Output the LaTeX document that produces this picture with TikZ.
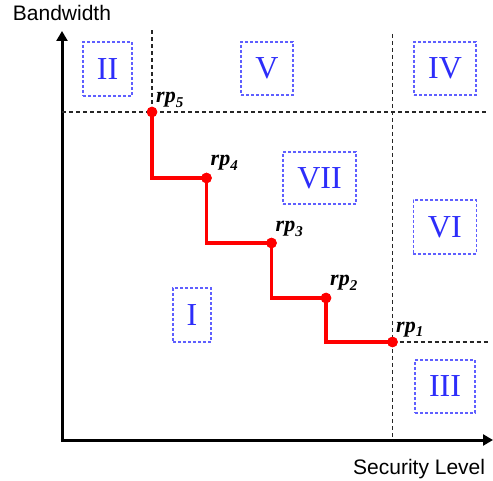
\documentclass[tikz,border=0pt]{standalone}
\usepackage{fontspec}
\setmainfont{Liberation Serif}
\newfontfamily\axisfont{Liberation Sans}
\usetikzlibrary{arrows.meta}
\definecolor{regionblue}{RGB}{45,45,250}
\definecolor{frameblue}{RGB}{95,95,255}
\definecolor{pathred}{RGB}{255,0,0}
\newcommand\rplabel[1]{\fontsize{22}{24}\selectfont\bfseries\itshape rp\raisebox{-5pt}{\fontsize{15}{16}\selectfont #1}}
\tikzset{
  axis/.style={line width=3pt, -{Triangle[length=10pt,width=11pt]}},
  guide/.style={line width=1.2pt, dash pattern=on 4pt off 3pt, black!85},
  region/.style={draw=frameblue, line width=1.1pt, dash pattern=on 3pt off 2pt,
    text=regionblue, inner sep=0pt, font=\fontsize{32}{34}\selectfont},
  rpdot/.style={circle, fill=pathred, inner sep=0pt, minimum size=10.5pt},
  rppath/.style={pathred, line width=3.4pt},
  rptext/.style={anchor=base west, inner sep=0pt},
  axislabel/.style={anchor=base west, inner sep=0pt, font=\axisfont\fontsize{21}{23}\selectfont}
}
\begin{document}
\begin{tikzpicture}[x=1pt, y=-1pt]
\useasboundingbox (0,0) rectangle (493,481);

% axes
\coordinate (origin) at (62,440);
\coordinate (ytip) at (62,31);
\coordinate (xtip) at (493,440);
\draw[axis] ([yshift=-1.5pt]origin) -- (ytip);
\draw[axis] ([xshift=-1.5pt]origin) -- (xtip);
\node[axislabel] (ylab) at (12.7,20.7) {Bandwidth};
\node[axislabel] (xlab) at (353,474) {Security Level};

% reference points
\node[rpdot] (rp5) at (152,112) {};
\node[rpdot] (rp4) at (206.5,178) {};
\node[rpdot] (rp3) at (271.5,243) {};
\node[rpdot] (rp2) at (326,298) {};
\node[rpdot] (rp1) at (392.5,342) {};

% guide lines
\coordinate (gA) at (152,30.5);
\coordinate (gB) at (62,112);
\coordinate (gC) at (488,112);
\coordinate (gD) at (392.5,34);
\coordinate (gE) at (392.5,440);
\coordinate (gF) at (490,342);
\draw[guide] (gA) -- (rp5.center);
\draw[guide] (gB) -- (gC);
\draw[guide] (gD) -- (gE);
\draw[guide] (rp1.center) -- (gF);

% staircase
\draw[rppath] (rp5.center) |- (rp4.center) |- (rp3.center) |- (rp2.center) |- (rp1.center);
\foreach \p in {rp5,rp4,rp3,rp2,rp1} \node[rpdot] at (\p) {};

% point labels
\node[rptext] (l5) at (156,103) {\rplabel{5}};
\node[rptext] (l4) at (210.5,166) {\rplabel{4}};
\node[rptext] (l3) at (275.5,231.5) {\rplabel{3}};
\node[rptext] (l2) at (330,286) {\rplabel{2}};
\node[rptext] (l1) at (396,332) {\rplabel{1}};

% regions
\node[region, minimum width=49pt, minimum height=54pt] (rII) at (107.5,69) {II};
\node[region, minimum width=52pt, minimum height=53pt] (rV) at (267,68.5) {V};
\node[region, minimum width=62pt, minimum height=53pt] (rIV) at (445,68.5) {IV};
\node[region, minimum width=73pt, minimum height=52pt] (rVII) at (319.5,178) {VII};
\node[region, minimum width=63pt, minimum height=54pt] (rVI) at (444.8,227) {VI};
\node[region, minimum width=38pt, minimum height=54pt] (rI) at (192,315) {I};
\node[region, minimum width=60pt, minimum height=53pt] (rIII) at (445,386.5) {III};
\end{tikzpicture}
\end{document}
